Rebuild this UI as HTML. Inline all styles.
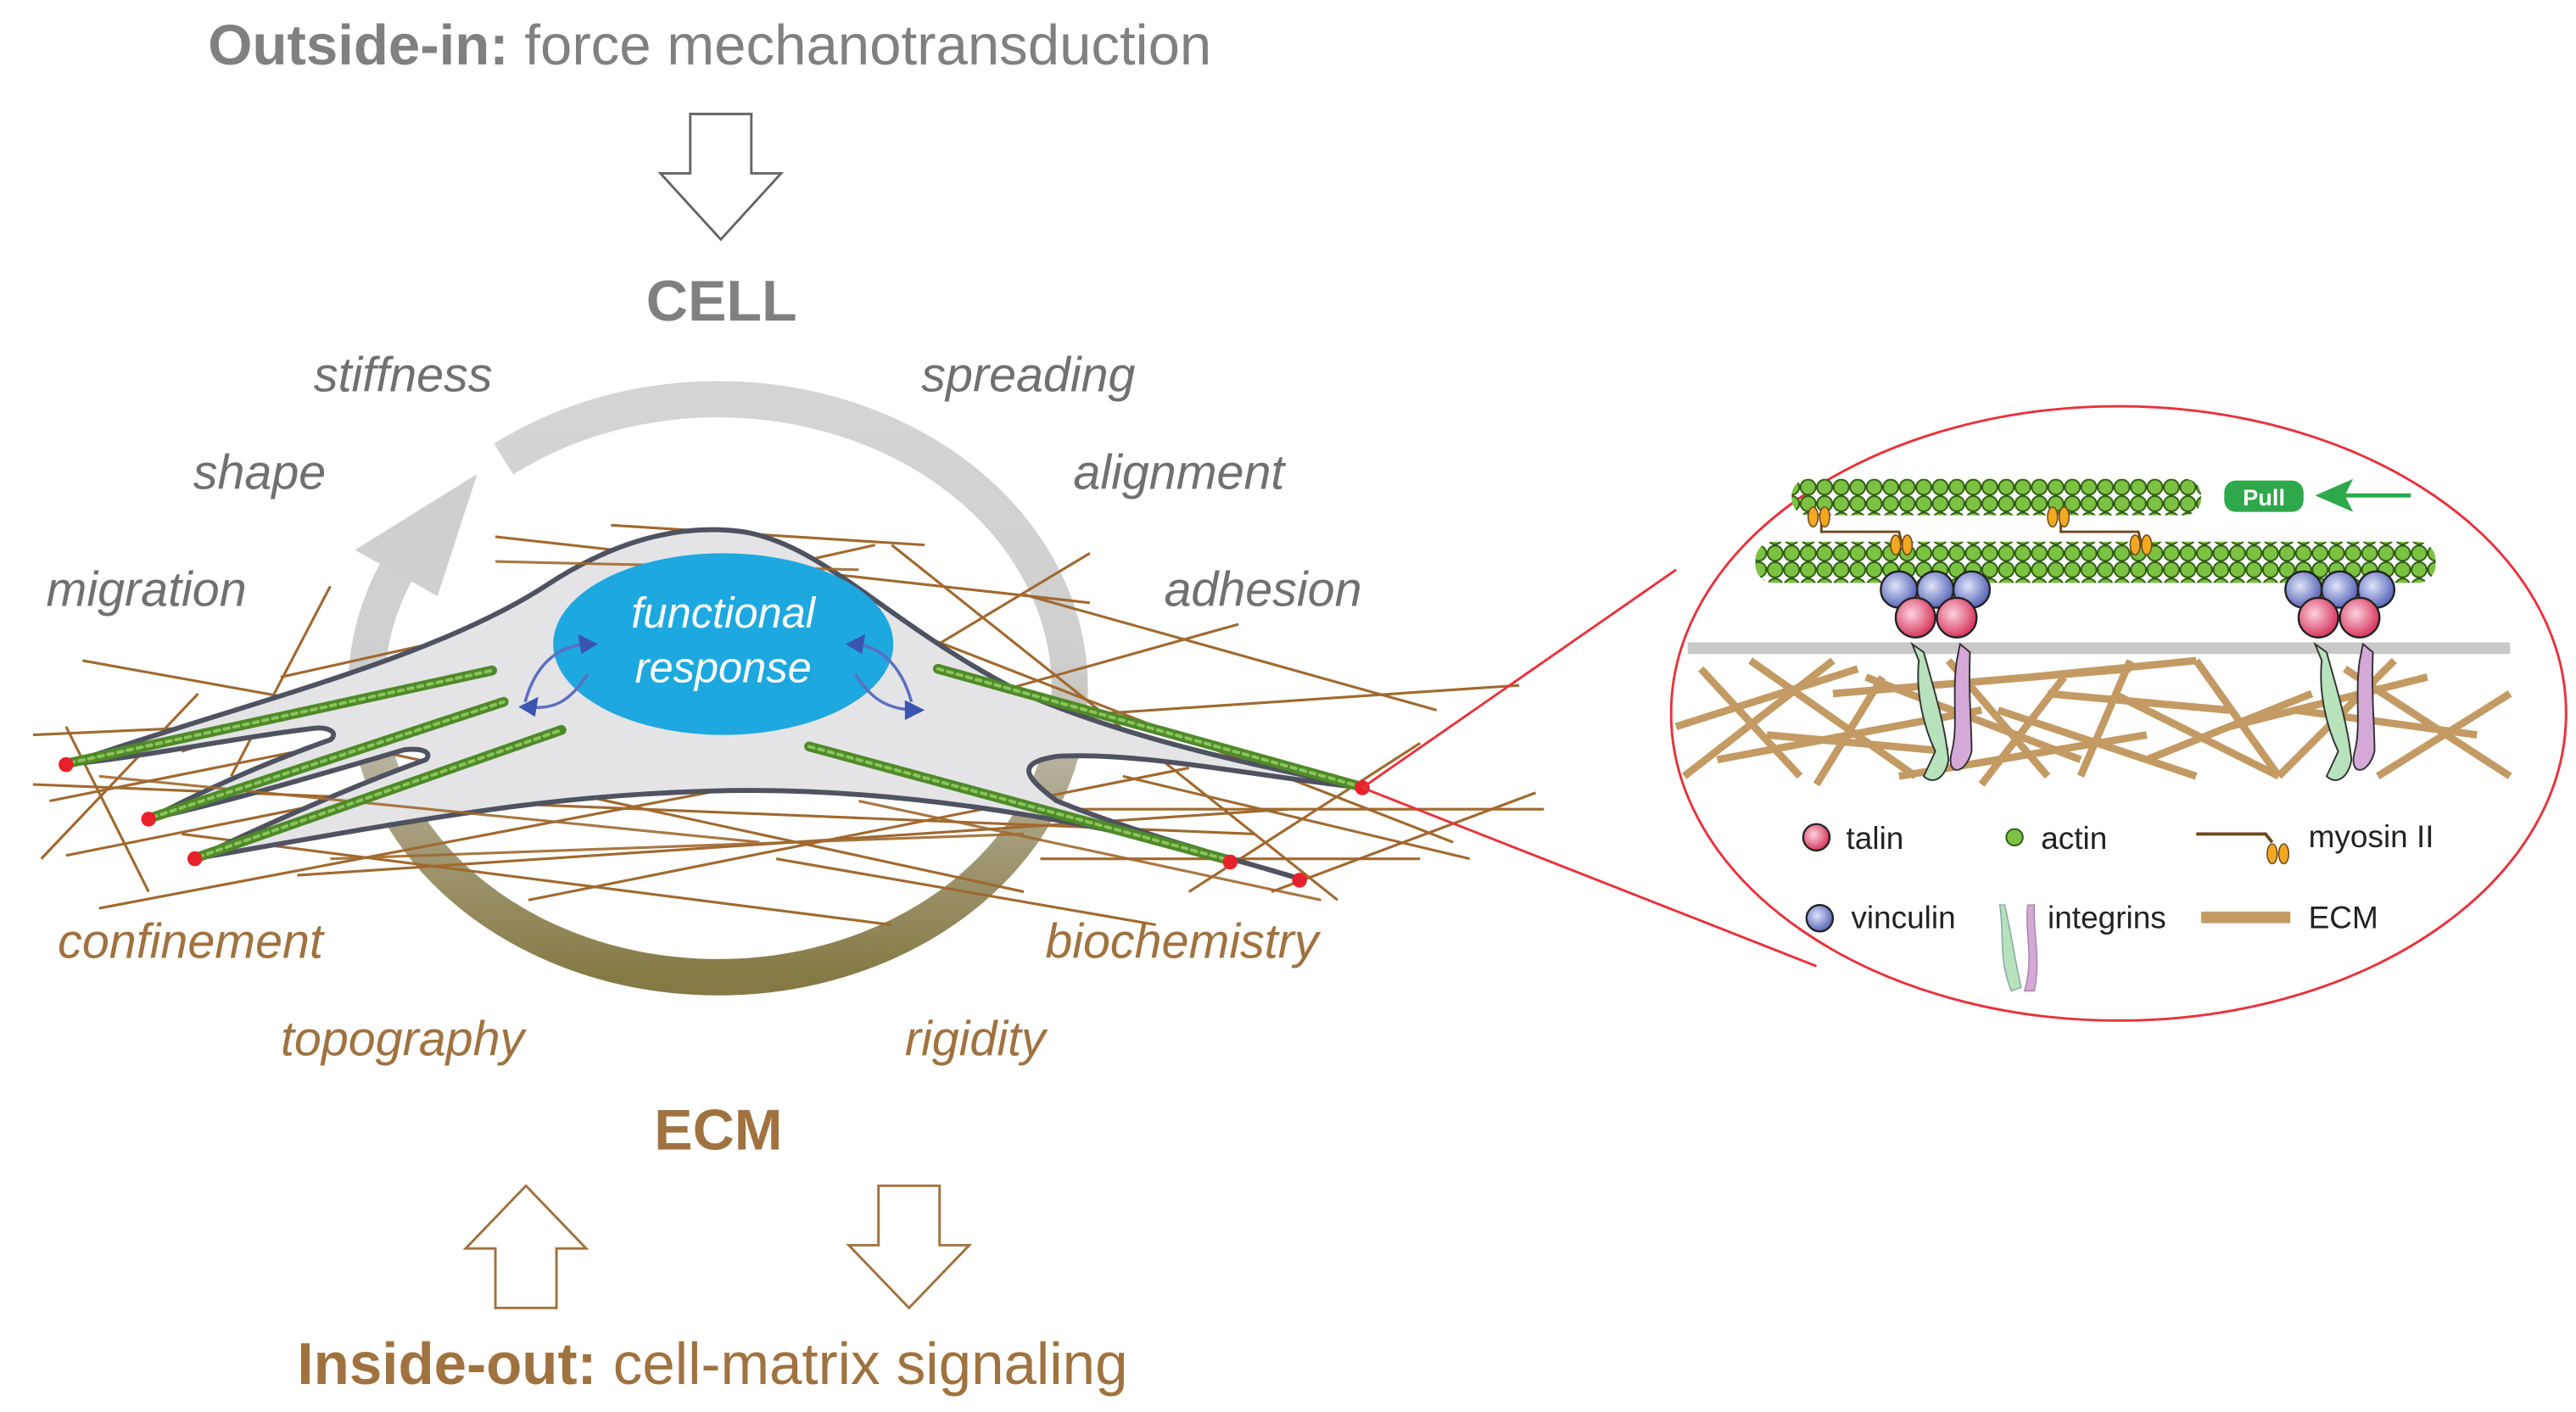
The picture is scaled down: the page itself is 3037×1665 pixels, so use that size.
<!DOCTYPE html>
<html><head><meta charset="utf-8"><style>
html,body{margin:0;padding:0;background:#fff;}
svg{display:block;}
text{font-family:"Liberation Sans",sans-serif;}
</style></head><body>
<svg width="3037" height="1665" viewBox="0 0 1560 855" preserveAspectRatio="none" xmlns="http://www.w3.org/2000/svg">
<defs>
<linearGradient id="ring" x1="0" y1="0" x2="0" y2="1">
<stop offset="0" stop-color="#d4d4d4"/><stop offset="0.45" stop-color="#cfcfcf"/><stop offset="0.75" stop-color="#a59d7c"/><stop offset="1" stop-color="#857a45"/>
</linearGradient>
<pattern id="act" width="10" height="10" patternUnits="userSpaceOnUse">
<circle cx="5" cy="5" r="4.6" fill="#7cc242" stroke="#2d5a12" stroke-width="1"/>
</pattern>
<radialGradient id="tal" cx="0.4" cy="0.4" r="0.6"><stop offset="0" stop-color="#fbd3de"/><stop offset="1" stop-color="#d8385f"/></radialGradient>
<radialGradient id="vin" cx="0.4" cy="0.4" r="0.6"><stop offset="0" stop-color="#dfe4f8"/><stop offset="1" stop-color="#5a67b8"/></radialGradient>
</defs>

<text x="126" y="39" font-size="34.5" fill="#808080"><tspan font-weight="bold">Outside-in:</tspan> force mechanotransduction</text>
<polygon points="418,69 455,69 455,105 473,105 436.5,145 400,105 418,105" fill="#fff" stroke="#666" stroke-width="1.5"/>
<text x="437" y="194" font-size="35" font-weight="bold" fill="#808080" text-anchor="middle">CELL</text>

<g font-size="29.5" font-style="italic" fill="#707070">
<text x="190" y="237">stiffness</text>
<text x="558" y="237">spreading</text>
<text x="117" y="296">shape</text>
<text x="650" y="296">alignment</text>
<text x="28" y="367">migration</text>
<text x="705" y="367">adhesion</text>
</g>
<g font-size="29.5" font-style="italic" fill="#a0723f">
<text x="35" y="580">confinement</text>
<text x="633" y="580">biochemistry</text>
<text x="170" y="639">topography</text>
<text x="548" y="639">rigidity</text>
</g>
<text x="435" y="696" font-size="35" font-weight="bold" fill="#a0723f" text-anchor="middle">ECM</text>
<polygon points="300,792 337,792 337,756 355,756 318.5,718 282,756 300,756" fill="#fff" stroke="#a0723f" stroke-width="1.5"/>
<polygon points="532,718 569,718 569,754 587,754 550.5,792 514,754 532,754" fill="#fff" stroke="#a0723f" stroke-width="1.5"/>
<text x="180" y="838" font-size="35.5" fill="#a0723f"><tspan font-weight="bold">Inside-out:</tspan> cell-matrix signaling</text>

<path d="M305,278 A213,175 0 1 1 240,346" fill="none" stroke="url(#ring)" stroke-width="22"/>
<polygon points="215,333 265,361 289,287" fill="#cfcfcf"/>

<g stroke="#a0692f" stroke-width="1.6" fill="none">
<line x1="300" y1="325" x2="660" y2="365"/><line x1="370" y1="318" x2="560" y2="330"/>
<line x1="420" y1="326" x2="610" y2="430"/><line x1="170" y1="410" x2="530" y2="330"/>
<line x1="110" y1="455" x2="440" y2="350"/><line x1="50" y1="400" x2="300" y2="445"/>
<line x1="20" y1="445" x2="240" y2="435"/><line x1="30" y1="485" x2="330" y2="425"/>
<line x1="40" y1="518" x2="280" y2="470"/><line x1="20" y1="475" x2="760" y2="505"/>
<line x1="60" y1="550" x2="560" y2="455"/><line x1="110" y1="505" x2="540" y2="560"/>
<line x1="180" y1="530" x2="780" y2="490"/><line x1="230" y1="455" x2="620" y2="540"/>
<line x1="320" y1="545" x2="720" y2="465"/><line x1="550" y1="440" x2="920" y2="415"/>
<line x1="520" y1="370" x2="880" y2="510"/><line x1="540" y1="330" x2="810" y2="545"/>
<line x1="620" y1="360" x2="870" y2="430"/><line x1="560" y1="395" x2="660" y2="335"/>
<line x1="600" y1="420" x2="750" y2="378"/><line x1="640" y1="490" x2="935" y2="490"/>
<line x1="680" y1="470" x2="890" y2="520"/><line x1="720" y1="540" x2="860" y2="450"/>
<line x1="770" y1="540" x2="930" y2="480"/><line x1="630" y1="520" x2="860" y2="520"/>
<line x1="40" y1="440" x2="90" y2="540"/><line x1="25" y1="520" x2="120" y2="420"/>
<line x1="140" y1="470" x2="200" y2="355"/><line x1="470" y1="520" x2="700" y2="560"/>
</g>

<path d="M40,463 C150,425 260,400 330,355 C380,322 420,318 450,322 C500,330 540,380 620,420 C690,450 770,465 825,477 C760,470 690,455 640,458 C615,462 620,470 640,485 C690,505 740,518 790,533 C700,505 560,475 430,479 C330,482 260,495 118,520 C180,490 230,470 258,460 C262,455 255,453 245,454 C190,470 140,485 90,496 C140,470 180,455 200,448 C205,444 200,440 190,441 C140,447 90,458 40,463 Z" fill="#e4e4e6" stroke="#4f5260" stroke-width="3" stroke-linejoin="round"/>

<g stroke="#a0692f" stroke-width="1.6" opacity="0.9">
<line x1="60" y1="470" x2="460" y2="510"/><line x1="200" y1="520" x2="620" y2="505"/>
<line x1="520" y1="485" x2="800" y2="545"/><line x1="300" y1="340" x2="520" y2="345"/>
</g>

<g stroke="#4f8a2a" stroke-width="6" stroke-linecap="round">
<line x1="42" y1="462" x2="298" y2="406"/><line x1="92" y1="495" x2="305" y2="425"/>
<line x1="120" y1="519" x2="340" y2="442"/><line x1="568" y1="405" x2="823" y2="476"/>
<line x1="490" y1="452" x2="745" y2="521"/>
</g>
<g stroke="#8cc45a" stroke-width="2" stroke-dasharray="3 3" stroke-linecap="round">
<line x1="42" y1="462" x2="298" y2="406"/><line x1="92" y1="495" x2="305" y2="425"/>
<line x1="120" y1="519" x2="340" y2="442"/><line x1="568" y1="405" x2="823" y2="476"/>
<line x1="490" y1="452" x2="745" y2="521"/>
</g>

<ellipse cx="438" cy="390" rx="103" ry="55" fill="#1ea8e0"/>
<text x="438" y="380" font-size="26" font-style="italic" fill="#fff" text-anchor="middle">functional</text>
<text x="438" y="413" font-size="26" font-style="italic" fill="#fff" text-anchor="middle">response</text>
<g fill="none" stroke="#5a6fc0" stroke-width="1.8">
<path d="M318,425 C325,400 340,390 358,390"/><path d="M356,408 C345,425 335,430 320,428"/>
<path d="M552,425 C545,400 530,390 516,390"/><path d="M518,408 C528,425 540,430 556,430"/>
</g>
<g fill="#3a55b0">
<polygon points="362,390 350,384 352,396"/><polygon points="314,428 326,422 324,434"/>
<polygon points="512,390 524,384 522,396"/><polygon points="560,430 548,424 548,436"/>
</g>

<g fill="#e8202a">
<circle cx="40" cy="463" r="4.5"/><circle cx="90" cy="496" r="4.5"/><circle cx="118" cy="520" r="4.5"/>
<circle cx="825" cy="477" r="4.5"/><circle cx="745" cy="522" r="4.5"/><circle cx="787" cy="533" r="4.5"/>
</g>

<g stroke="#e8323c" stroke-width="1.5" fill="none">
<line x1="825" y1="477" x2="1015" y2="345"/>
<line x1="825" y1="477" x2="1100" y2="585"/>
<ellipse cx="1283" cy="432" rx="271" ry="186"/>
</g>

<rect x="1022" y="389" width="498" height="7" fill="#c8c8c8"/>
<g stroke="#c39a63" stroke-width="4.5" stroke-linecap="butt">
<line x1="1015" y1="440" x2="1125" y2="405"/><line x1="1020" y1="470" x2="1110" y2="400"/>
<line x1="1030" y1="405" x2="1090" y2="470"/><line x1="1060" y1="400" x2="1160" y2="470"/>
<line x1="1040" y1="460" x2="1200" y2="430"/><line x1="1130" y1="410" x2="1260" y2="460"/>
<line x1="1110" y1="420" x2="1290" y2="405"/><line x1="1150" y1="470" x2="1300" y2="445"/>
<line x1="1180" y1="400" x2="1240" y2="470"/><line x1="1210" y1="430" x2="1330" y2="470"/>
<line x1="1230" y1="410" x2="1330" y2="400"/><line x1="1260" y1="470" x2="1290" y2="400"/>
<line x1="1280" y1="420" x2="1380" y2="470"/><line x1="1300" y1="460" x2="1400" y2="420"/>
<line x1="1330" y1="400" x2="1380" y2="470"/><line x1="1350" y1="440" x2="1470" y2="410"/>
<line x1="1380" y1="470" x2="1450" y2="400"/><line x1="1420" y1="405" x2="1520" y2="470"/>
<line x1="1440" y1="470" x2="1520" y2="420"/><line x1="1390" y1="430" x2="1500" y2="445"/>
<line x1="1070" y1="445" x2="1180" y2="455"/><line x1="1240" y1="420" x2="1350" y2="430"/>
<line x1="1200" y1="475" x2="1250" y2="410"/><line x1="1100" y1="475" x2="1140" y2="410"/>
</g>

<rect x="1085" y="290" width="248" height="22" rx="10" fill="url(#act)"/>
<rect x="1063" y="328" width="412" height="25" rx="11" fill="url(#act)"/>
<g stroke="#6b4a1f" stroke-width="1.5" fill="none">
<polyline points="1103,313 1103,322 1150,322 1152,330"/><polyline points="1248,313 1248,322 1295,322 1297,330"/>
</g>
<g fill="#f4a821" stroke="#6b4a1f" stroke-width="0.8">
<ellipse cx="1098" cy="313" rx="3" ry="6"/><ellipse cx="1105" cy="313" rx="3" ry="6"/>
<ellipse cx="1148" cy="330" rx="3" ry="6"/><ellipse cx="1155" cy="330" rx="3" ry="6"/>
<ellipse cx="1243" cy="313" rx="3" ry="6"/><ellipse cx="1250" cy="313" rx="3" ry="6"/>
<ellipse cx="1293" cy="330" rx="3" ry="6"/><ellipse cx="1300" cy="330" rx="3" ry="6"/>
</g>
<rect x="1347" y="291" width="48" height="19" rx="7" fill="#2ea84a"/>
<text x="1371" y="306" font-size="14" font-weight="bold" fill="#fff" text-anchor="middle">Pull</text>
<line x1="1460" y1="300" x2="1415" y2="300" stroke="#2ea84a" stroke-width="2.5"/>
<polygon points="1402,300 1425,290 1420,300 1425,310" fill="#2ea84a"/>

<g stroke="#333" stroke-width="1">
<path d="M1158,390 L1162,400 C1160,420 1165,440 1172,455 L1165,470 A10,16 0 0 0 1180,460 C1178,440 1172,420 1165,395 Z" fill="#b7e2bb"/>
<path d="M1187,390 L1185,400 C1182,420 1186,440 1182,455 C1178,470 1190,470 1194,455 C1194,440 1192,420 1193,395 Z" fill="#d4a9d8"/>
<path d="M1402,390 L1406,400 C1404,420 1409,440 1416,455 L1409,470 A10,16 0 0 0 1424,460 C1422,440 1416,420 1409,395 Z" fill="#b7e2bb"/>
<path d="M1431,390 L1429,400 C1426,420 1430,440 1426,455 C1422,470 1434,470 1438,455 C1438,440 1436,420 1437,395 Z" fill="#d4a9d8"/>
</g>
<g stroke="#222" stroke-width="1.2">
<circle cx="1150" cy="357" r="11" fill="url(#vin)"/><circle cx="1172" cy="357" r="11" fill="url(#vin)"/><circle cx="1194" cy="357" r="11" fill="url(#vin)"/>
<circle cx="1395" cy="357" r="11" fill="url(#vin)"/><circle cx="1417" cy="357" r="11" fill="url(#vin)"/><circle cx="1439" cy="357" r="11" fill="url(#vin)"/>
<circle cx="1160" cy="374" r="12" fill="url(#tal)"/><circle cx="1185" cy="374" r="12" fill="url(#tal)"/>
<circle cx="1404" cy="374" r="12" fill="url(#tal)"/><circle cx="1429" cy="374" r="12" fill="url(#tal)"/>
</g>

<g font-size="19" fill="#222">
<circle cx="1100" cy="507" r="8" fill="url(#tal)" stroke="#222" stroke-width="1.2"/>
<text x="1118" y="514">talin</text>
<circle cx="1220" cy="507" r="5" fill="#7cc242" stroke="#2d5a12"/>
<text x="1236" y="514">actin</text>
<polyline points="1330,505 1372,505 1376,510" fill="none" stroke="#6b4a1f" stroke-width="2"/>
<ellipse cx="1376" cy="517" rx="3" ry="6" fill="#f4a821" stroke="#6b4a1f" stroke-width="0.8"/><ellipse cx="1383" cy="517" rx="3" ry="6" fill="#f4a821" stroke="#6b4a1f" stroke-width="0.8"/>
<text x="1398" y="513">myosin II</text>
<circle cx="1102" cy="556" r="8" fill="url(#vin)" stroke="#222" stroke-width="1.2"/>
<text x="1121" y="562">vinculin</text>
<path d="M1211,548 C1214,565 1210,580 1218,600 L1224,598 C1220,580 1218,565 1214,548 Z" fill="#b7e2bb" stroke="#8aa" stroke-width="0.8"/>
<path d="M1228,548 C1226,565 1232,580 1226,600 L1232,600 C1236,580 1231,565 1232,548 Z" fill="#d4a9d8" stroke="#a8a" stroke-width="0.8"/>
<text x="1240" y="562">integrins</text>
<rect x="1333" y="552" width="54" height="7" fill="#c39a63"/>
<text x="1398" y="562">ECM</text>
</g>
</svg>
</body></html>
